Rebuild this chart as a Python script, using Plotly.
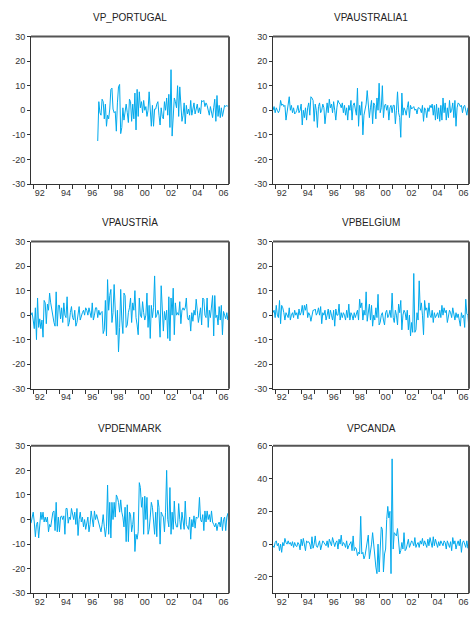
import pandas as pd
import plotly.graph_objects as go

# Monthly sample 1991m11 - 2006m12
periods = pd.period_range("1991-11", "2006-12", freq="M")
x_years = [p.year + (p.month - 1) / 12.0 for p in periods]

# ---- series (one row per year; first row is 1991m11-m12) ----
vp_portugal = [None] * 61 + [-12.5] + (
    [3.5, -1, -2, 4.5, 3.5, -3.5, 2.5, -6.5, -2, -3.5, 0.5, 8.5]
    + [9, 0.5, -1, -0.5, -8.5, 3, 9.5, 10.5, -9.5, -7, 1, -4]
    + [0.5, 2.5, -1, -5, 4.5, 3.5, -4.5, 2.5, -3.5, 7, -8, 8.5]
    + [-2.5, 7.5, 1, 3.5, -1, 4, 0, 1.5, -2.5, 0, 7.5, 1]
    + [-6.5, 2, -6.5, 0.5, 0.5, 2.5, 3.5, -2, -6, 1, -2.5, -3.5]
    + [3.5, 0, 5, -2, 6.5, -7, 16.5, -10.5, -3, 5, 3.5, 1]
    + [10, -2.5, 9.5, 4, -4.5, -2, 3, -5.5, 2, -1.5, 0.5, -2]
    + [4, -2, 0.5, 3, -1.5, 0, 2.5, -1, 1, -1.5, 4, 3.5]
    + [4, 1.5, 3, 2, 0, -2, 1.5, -1, -3, 1, 4.5, -4.5]
    + [6, -2.5, 2, -3, 1, -2.5, 0, 2, 1.5, 2, 1.5, 1.5]
)

vp_australia1 = (
    [0, 1.5]
    + [-1, 1, 0, -1, 0, 4, 2, 2.5, 1.5, 2, -4, 0]
    + [2, 5.5, 0, 2, -1, 1, -1.5, -1, 0, 2, -1, 0]
    + [2.5, -6, 0, -3, 1, -4, 1, 3, -2, 5.5, 5, 4]
    + [-4.5, 2.5, 0, -7, 1.5, 3, -1, 0, 2.5, 1, -5.5, 1]
    + [3, -1, 4.5, 1, 2.5, -1, 3.5, 0, -4, 1, 4, 3]
    + [2.5, 1, 3, -1, 2, -2, 1, -4, 2, 0, 4, -4]
    + [2, 3, 1, -2, 9, -6.5, 2, -2, 3.5, -10, -2, 1]
    + [2.5, 8, 2, -3, 1, 4, -5.5, 3, 2, -3.5, 5, 0]
    + [11, -1, 1, 10, -3, 2, 2.5, 0, 2, -4, 1, 2]
    + [-1, 2, 2, -5.5, 0, 7.5, -1, -3, -11, 7, -2, 1]
    + [0, -2, 1, 3.5, -3, 2, 0.5, 1, 1.5, 0, 0.5, -1.5]
    + [1, 1, 0.5, -1, 2, -4.5, 1, 0, -3, 1, -0.5, 2]
    + [1, 2.5, -2, 2, -4, 2.5, -3.5, 1, -4.5, 2, -4, 5]
    + [-1, 3, -4, 1, -3, 4, -1, 0, 3, -3, 4, -6.5]
    + [1, 3, 2.5, 1.5, 2, -1, 1.5, 2, 0.5, -2, 1, 1]
)

vp_austria = (
    [0, 1]
    + [-2, -5.5, 3, -10, 7, -5, -1.5, -5.5, -2, -9, 6, 5]
    + [-3.5, 4.5, 2, 9, 5, 2, -1, -3, -4.5, 9.5, -4.5, 4]
    + [4, -1.5, 3, -3, 5, 0, -1, 7.5, -4.5, -3, 1, 3.5]
    + [-1, -2, 2, -4.5, -3, 0, 3.5, -2, 0, 1, 2, 0]
    + [3, 2, 0, 3, 1, -1, 5, -2, 0, 3, 3, -1]
    + [2, 0, 1, 1.5, -7.5, -6, 6, -8.5, 14.5, 2, 8, 10.5]
    + [-3, 1, 12.5, 4, -8, 2, -15, -5, 10.5, -2, -7.5, 9]
    + [8, -5, -4, 1, 3, 7, -3, 5, 2, 10, -1, -4]
    + [-8, 7, 0, -1, 5.5, 1, -2, 0, 9, -5, 4, -9.5]
    + [4, -1, 3, 16, -1, 0, 2, 0, -9, 12, 0, -6.5]
    + [1.5, -2, 2, -9.5, 7.5, -10.5, 7, 0, 11, -8, 5, 0]
    + [1, 0, 5.5, -3.5, 2, 3, 2, 3, 7, -1, -2, 0]
    + [-6.5, 1, -2.5, 2, 0, 6.5, 2, -3, 0, 3, -4, 7]
    + [6.5, 0, -1, 7, -5, 2, -1, 3, 8, -8.5, 8, -1]
    + [0, -4, 3.5, -2, 4, -8, 1.5, 0, -1.5, 1, -2, 1]
)

vp_belgium = (
    [1, 2]
    + [-1, 4, 0, -1, 6, -3.5, 4, 3, 1, -2, 1, 0]
    + [-1, 3, -2, 0, 1, -1, 2, 0, 1, -1.5, 2.5, 0]
    + [1, 4, 0, 4, 2, 4.5, -1, 1, 0, -2.5, 0, 2]
    + [2, 2.5, 0, 1, 3, 0, 3.5, -3.5, 1, 0, 2, -2]
    + [0, 2.5, -1.5, 2, 0, -2, 2, -4.5, 2.5, 0, 0, 4.5]
    + [-2, 1, -1, 1, 0, -2, 2, -1, 4.5, -2, 1, 0]
    + [-2, 1, -1, 1, 2, -2, 6.5, 3, 5, -2, 2, 0]
    + [9.5, -2.5, 1, 4.5, -2, 4, -4.5, 0, -2, 3, -1, 8.5]
    + [-4, -3, 0, 1, -2, -4, 1, 2, -1, 0, 2, -1]
    + [9, -1, -3, 2, 0, -4, 4.5, 1, 6, -6, 0, 2]
    + [1, -2, 2, -6, 0, -8.5, -3, -7, 17, -7, -6, 1]
    + [-2, 14, 2, 5, 0, -8, 6, 2, 3, -1, 5, 0]
    + [-1, 2, -3, 1, -1, 0, 1, -1, 2, -1, 4, 0]
    + [3, 1, 2, -3, 0, 2, 1, -1, 3, 0, -2, 1]
    + [-1, 0.5, -2, -4.5, 1, -1, 0, -5, 6.5, 0.5, 0, -6]
)

vp_denmark = (
    [-1.5, 1.5]
    + [3, -1, -7, -2, -1, -7.5, -1, 3, 0, 3, -1, 1]
    + [-1, 1, -5, -2, -3, 1, 3, 3.5, -4.5, 7, -5, 1]
    + [-5, 1, 1.5, 0, 1.5, -6, 4.5, 4.5, -1.5, 1, 0, 4.5]
    + [2, 0, 3, -2, 4.5, -6.5, 0, 3, -1, 1, -3, 0]
    + [-4, -1, 1, -5, -2, 3.5, 0, -3, 3.5, 0, 2, 0]
    + [-2, -4, -5, -2, 2, -3, -7, -3, 14, -6, 7, -7.5]
    + [7, 0, 7, 1, 10, 9, 7, 3, 8, 3, 1, -3]
    + [5, -9, 6, -9, 3, 2, -5, -2, 3, -13, -6, -8]
    + [-5, 15, 13, 5, 9, -6, 9.5, 0, 9, -6, -4, 1]
    + [7, 5, -2, -6, 3, -7, 8, 5, -10, 3, 2, 1]
    + [-5, 3, 20, 0, -3, 13, -6, 3, -4, 7.5, -1, -3]
    + [-3, 6.5, 0, -4, 3, 0, -4, 7.5, -2, -3, -4, 1]
    + [-8, 0, -3, 1.5, -3.5, 1, 0.5, 1, 9, 0, -1, 2]
    + [-4.5, 3.5, -1, 3.5, 0, 2, -1, 3.5, -1, -2, -3, -1.5]
    + [-4.5, -2, -1, -3, 1, -4.5, 0, 1, -4.5, 1, 2.5, -3.5]
)

vp_canda = (
    [-1, -2]
    + [1, 2, -1, 0.5, -4, 0, -5, 1, -1, 3.5, 1, 0]
    + [2, 0, 1, -1, 1.5, -2, 1, -1, -1.5, 1, 0, -3.5]
    + [3, -1, 3.5, 0, -4, 2, 1, 1.5, 0, -3, 4.5, -2.5]
    + [0, 5, -1, -2, 1, 2, -3.5, 0.5, 2, 1, 0, -1]
    + [2, -2, 3, 0, -1, 4, 1, -1.5, 1, 2, -3, 3]
    + [0, 5.5, -1, 1, 0, -2, 2, -3, -1, 0, 1.5, -4]
    + [5, -4, -2, -3, -7, -5, -6, 17, -6, -5, -9, -7]
    + [-2, 3, 5.5, -9, -5, 0, 7, -2, -10, -14, -18, 0]
    + [-17, -5, 10.5, 9, -17, -6, -3, 15, 23, 16, 20, -18]
    + [52, -3, 7, 6, 5, 9.5, -2, -6, -4, 1, -3, 7]
    + [-4, -3, 0, 3, -2, 0, 2, 1, -1, 4, -2, 0]
    + [1, -2, 2, 0, 3.5, -1, 2, 0, -2, 3, -1, 4]
    + [0, -2, 4.5, -1, 3, 0, -2, 1.5, -1, 2, 0, -1]
    + [2, 1, -3, 2, 0, -2, 1.5, -4, 4, 0, 2, -3]
    + [0, 2, -1, 3, -5, 1, 2, 0, -2, 2, -2.5, 0.5]
)

titles = ["VP_PORTUGAL", "VPAUSTRALIA1", "VPAUSTRİA", "VPBELGİUM", "VPDENMARK", "VPCANDA"]
series = [vp_portugal, vp_australia1, vp_austria, vp_belgium, vp_denmark, vp_canda]

# y axis ticks
y_ticks_std = [-30, -20, -10, 0, 10, 20, 30]
y_ticks_can = [-20, 0, 20, 40, 60]

# x axis: ticks at year boundaries, labels at mid-year of even years
year_bounds = list(range(1992, 2007))
label_years = list(range(1992, 2007, 2))
label_text = [f"{y % 100:02d}" for y in label_years]

# ---- layout geometry (pixels of a 474 x 618 page) ----
W, H = 474, 618
col_px = [(31, 229), (273, 469)]
row_px = [(32, 182), (240.5, 390), (448, 598)]
title_px = [13, 221, 430]

LINE = "#00A9EC"
AX = "#333333"
FONT = "Liberation Sans, Arial, sans-serif"

fig = go.Figure()
shapes = []
annotations = []

for i, (name, vals) in enumerate(zip(titles, series)):
    r, c = divmod(i, 2)
    x0p, x1p = col_px[c]
    y0p, y1p = row_px[r]
    dx = [x0p / W, x1p / W]
    dy = [1 - y1p / H, 1 - y0p / H]
    k = "" if i == 0 else str(i + 1)

    fig.add_trace(go.Scatter(
        x=x_years, y=vals, mode="lines", xaxis="x" + k, yaxis="y" + k,
        line=dict(color=LINE, width=1), connectgaps=False, showlegend=False,
        hoverinfo="skip",
    ))

    if name == "VPCANDA":
        yr, yt = [-30, 60], y_ticks_can
    else:
        yr, yt = [-30, 30], y_ticks_std

    fig.layout["xaxis" + k] = dict(
        domain=dx, anchor="y" + k, range=[x_years[0], x_years[-1]],
        showgrid=False, zeroline=False, showline=True, linecolor=AX, linewidth=1,
        tickmode="array", tickvals=[y + 0.5 for y in label_years], ticktext=label_text,
        ticks="", tickfont=dict(family=FONT, size=9, color="#333333"),
        minor=dict(tickmode="array", tickvals=year_bounds, ticks="outside",
                   ticklen=4, tickcolor=AX, tickwidth=1, showgrid=False),
        fixedrange=True,
    )
    fig.layout["yaxis" + k] = dict(
        domain=dy, anchor="x" + k, range=yr,
        showgrid=False, zeroline=False, showline=True, linecolor=AX, linewidth=1,
        tickmode="array", tickvals=yt, ticktext=[str(v) for v in yt],
        ticks="outside", ticklen=3, tickcolor=AX, tickwidth=1,
        tickfont=dict(family=FONT, size=9, color="#333333"),
        fixedrange=True,
    )

    # heavier top and right frame
    shapes.append(dict(type="line", xref="paper", yref="paper",
                       x0=dx[0], x1=dx[1], y0=dy[1], y1=dy[1],
                       line=dict(color="#555555", width=2)))
    shapes.append(dict(type="line", xref="paper", yref="paper",
                       x0=dx[1], x1=dx[1], y0=dy[0], y1=dy[1],
                       line=dict(color="#555555", width=2)))

    annotations.append(dict(
        text=name, xref="paper", yref="paper", x=(dx[0] + dx[1]) / 2,
        y=1 - title_px[r] / H, xanchor="center", yanchor="middle", showarrow=False,
        font=dict(family=FONT, size=10, color="#222222"),
    ))

fig.update_layout(
    width=W, height=H, margin=dict(l=0, r=0, t=0, b=0),
    paper_bgcolor="white", plot_bgcolor="white",
    shapes=shapes, annotations=annotations, showlegend=False,
)

fig.write_html("out.html")
